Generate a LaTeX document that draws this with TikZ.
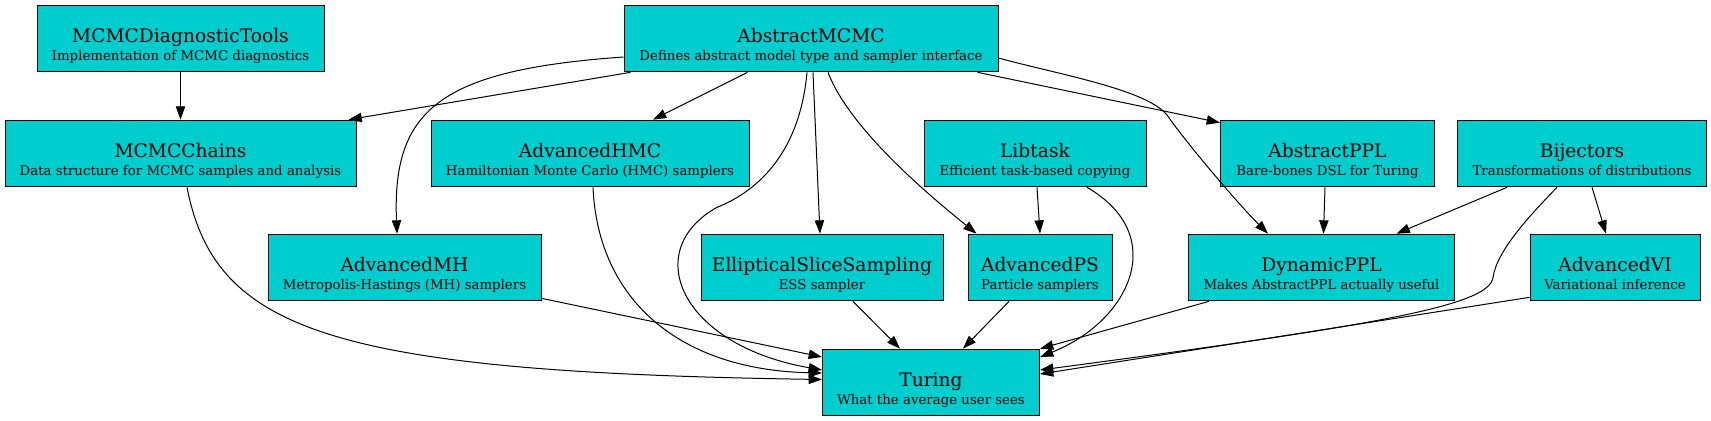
\documentclass[tikz,border=0pt]{standalone}
\usepackage{fontspec}
\setmainfont{DejaVu Serif}
\usepackage{tikz}
\usetikzlibrary{calc,arrows.meta}
\definecolor{pkgcyan}{HTML}{00CDCD}
\newcommand{\pkglabel}[2]{{\fontsize{14}{13.5}\selectfont #1}\\{\fontsize{10}{13.5}\selectfont #2}}

\begin{document}
\begin{tikzpicture}[x=0.75pt, y=-0.75pt,
  pkg/.style={draw=black, fill=pkgcyan, line width=0.75pt, minimum height=50pt, inner sep=0pt, align=center, font=\fontsize{10}{13.5}\selectfont, text height=36.3pt, text depth=3pt},
  dep/.style={-{Triangle[length=10pt,width=7pt]}, line width=0.75pt}
]
  \useasboundingbox (0,0) rectangle (1711,421);
  \node[pkg, minimum width=215.25pt] (diag) at (180.5,38.5) {\pkglabel{MCMCDiagnosticTools}{Implementation of MCMC diagnostics}};
  \node[pkg, minimum width=280.5pt] (amcmc) at (811,38.5) {\pkglabel{AbstractMCMC}{Defines abstract model type and sampler interface}};
  \node[pkg, minimum width=263.25pt] (chains) at (180.5,153.5) {\pkglabel{MCMCChains}{Data structure for MCMC samples and analysis}};
  \node[pkg, minimum width=238.5pt] (ahmc) at (590,153.5) {\pkglabel{AdvancedHMC}{Hamiltonian Monte Carlo (HMC) samplers}};
  \node[pkg, minimum width=166.5pt] (libtask) at (1035,153.5) {\pkglabel{Libtask}{Efficient task-based copying}};
  \node[pkg, minimum width=160.5pt] (appl) at (1327.5,153.5) {\pkglabel{AbstractPPL}{Bare-bones DSL for Turing}};
  \node[pkg, minimum width=186.75pt] (bij) at (1582,153.5) {\pkglabel{Bijectors}{Transformations of distributions}};
  \node[pkg, minimum width=204.75pt] (amh) at (404.5,267.5) {\pkglabel{AdvancedMH}{Metropolis-Hastings (MH) samplers}};
  \node[pkg, minimum width=181.5pt] (ess) at (822,267.5) {\pkglabel{EllipticalSliceSampling}{ESS sampler}};
  \node[pkg, minimum width=108pt] (aps) at (1040,267.5) {\pkglabel{AdvancedPS}{Particle samplers}};
  \node[pkg, minimum width=199.5pt] (dppl) at (1321.5,267.5) {\pkglabel{DynamicPPL}{Makes AbstractPPL actually useful}};
  \node[pkg, minimum width=127.5pt] (avi) at (1615,267.5) {\pkglabel{AdvancedVI}{Variational inference}};
  \node[pkg, minimum width=162.75pt] (turing) at (931,382.5) {\pkglabel{Turing}{What the average user sees}};

  \draw[dep] (diag) -- (chains);
  \draw[dep] ($(amcmc.south west)+(7,0)$) -- ($(chains.north east)+(-8,0)$);
  \draw[dep] ($(amcmc.west)+(0,18.5)$) .. controls +(-184,13) and +(-5,-124) .. ($(amh.north)+(-7.5,0)$);
  \draw[dep] ($(amcmc.south west)+(124,0)$) -- ($(ahmc.north)+(63,0)$);
  \draw[dep] ($(amcmc.south)+(-4,0)$) .. controls +(-7,78) and +(43,-17) .. ++(-90,135) .. controls +(-77,43) and +(-142,-25) .. ($(turing.west)+(0,-12.5)$);
  \draw[dep] ($(amcmc.south)+(2,0)$) -- ($(ess.north)+(-2,0)$);
  \draw[dep] ($(amcmc.south)+(17,0)$) .. controls +(22,58) and +(-42,-34) .. ($(aps.north west)+(9,0)$);
  \draw[dep] ($(amcmc.south east)+(-21,0)$) -- ($(appl.north west)+(0,3)$);
  \draw[dep] ($(amcmc.east)+(0,19.5)$) .. controls +(62,17) and +(-18,-27) .. ++(170,59) .. controls +(12,18) and +(-35,-35) .. ($(dppl.north)+(-53.5,0)$);
  \draw[dep] ($(libtask.south)+(2,0)$) -- (aps.north);
  \draw[dep] ($(libtask.south)+(52,0)$) .. controls +(83,48) and +(90,-36) .. ($(turing.east)+(0,-25.5)$);
  \draw[dep] ($(appl.south)+(-2.5,0)$) -- ($(dppl.north)+(2,0)$);
  \draw[dep] ($(bij.south)+(-75,0)$) -- ($(dppl.north)+(75,0)$);
  \draw[dep] ($(bij.south)+(-25,0)$) .. controls +(-27,28) and +(4,-27) .. ++(-64,90) .. controls +(-3,28) and +(340,-45) .. ($(turing.east)+(0,-12.5)$);
  \draw[dep] ($(bij.south)+(10,0)$) -- ($(avi.north)+(-9,0)$);
  \draw[dep] ($(chains.south)+(6.5,0)$) .. controls +(28,143) and +(-492,-7.5) .. ($(turing.west)+(0,-3)$);
  \draw[dep] ($(ahmc.south)+(3,0)$) .. controls +(5,113) and +(-142,-3) .. ($(turing.west)+(0,-9.5)$);
  \draw[dep] ($(amh.south east)+(0,-3)$) -- ($(turing.west)+(0,-25.5)$);
  \draw[dep] ($(ess.south)+(31,0)$) -- ($(turing.north)+(-31,0)$);
  \draw[dep] ($(aps.south)+(-31,0)$) -- ($(turing.north)+(32,0)$);
  \draw[dep] ($(dppl.south west)+(21,0)$) -- (turing.north east);
  \draw[dep] ($(avi.south west)+(0,-4)$) -- ($(turing.east)+(0,-8.5)$);
\end{tikzpicture}
\end{document}
